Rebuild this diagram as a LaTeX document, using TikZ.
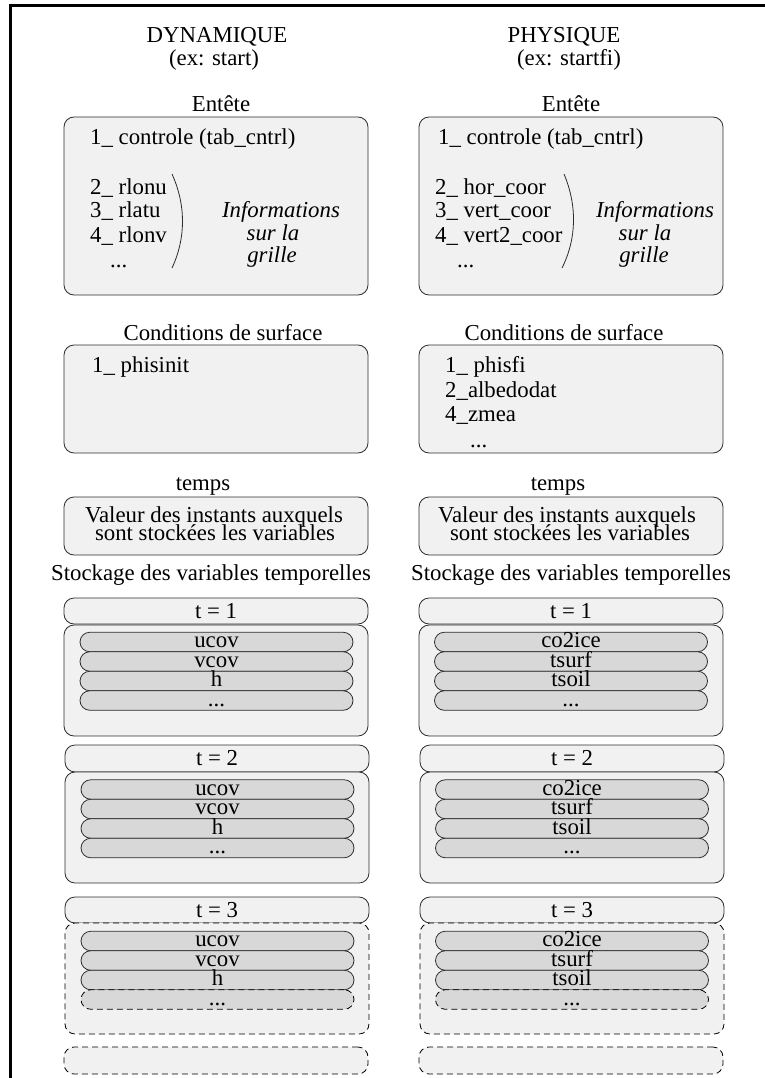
\documentclass[tikz,border=0pt]{standalone}
\usepackage{fontspec}
\setmainfont{Liberation Serif}
\definecolor{boxfill}{RGB}{241,241,241}
\definecolor{pillfill}{RGB}{216,216,216}
\definecolor{edge}{RGB}{45,45,45}
\begin{document}
\begin{tikzpicture}[x=1pt,y=-1pt,
  every node/.style={font=\fontsize{22.8}{24}\selectfont, inner sep=0pt},
  txt/.style={anchor=base},
  txtl/.style={anchor=base west},
  box/.style={draw=edge, line width=0.8pt, fill=boxfill, rounded corners=10pt, minimum width=304pt},
  pill/.style={draw=edge, line width=0.8pt, fill=pillfill, rounded corners=9.75pt, minimum width=273pt, minimum height=19.5pt, text height=15.5pt, text depth=4pt},
  dashline/.style={dash pattern=on 6pt off 4pt, draw=black},
  ital/.style={anchor=base, font=\fontsize{22.8}{24}\selectfont\itshape},
  frameline/.style={line width=3pt, black}
]
\useasboundingbox (0,0) rectangle (765,1078);
\coordinate (fa) at (10,1078);
\coordinate (fb) at (10,6);
\coordinate (fc) at (765,6);
\draw[frameline] (fa) -- (fb) -- (fc);

% titles
\node[txt] (dyn) at (217,43) {DYNAMIQUE};
\node[txt] (dynex) at (214,66) {(ex: start)};
\node[txt] (phy) at (564,43) {PHYSIQUE};
\node[txt] (phyex) at (569,66) {(ex: startfi)};

% Entete
\node[txt] (entL) at (221,112) {Entête};
\node[txt] (entR) at (571,112) {Entête};
\node[box, minimum height=178pt] (entboxL) at (216,206) {};
\node[box, minimum height=178pt] (entboxR) at (571,206) {};

\node[txtl] (eL1) at (90,145) {1\_ controle (tab\_cntrl)};
\node[txtl] (eL2) at (90,194) {2\_ rlonu};
\node[txtl] (eL3) at (90,217) {3\_ rlatu};
\node[txtl] (eL4) at (90,242) {4\_ rlonv};
\node[txtl] (eL5) at (110,267) {...};
\draw[edge, line width=0.8pt] (172,174) .. controls (186,205) and (186,238) .. (172,268);
\node[ital] (iL1) at (281,218) {Informations};
\node[ital] (iL2) at (273,240) {sur la};
\node[ital] (iL3) at (272,262) {grille};

\node[txtl] (eR1) at (438,145) {1\_ controle (tab\_cntrl)};
\node[txtl] (eR2) at (435,194) {2\_ hor\_coor};
\node[txtl] (eR3) at (435,218) {3\_ vert\_coor};
\node[txtl] (eR4) at (435,242) {4\_ vert2\_coor};
\node[txtl] (eR5) at (457,267) {...};
\draw[edge, line width=0.8pt] (564,174) .. controls (577,205) and (577,238) .. (562,268);
\node[ital] (iR1) at (655,218) {Informations};
\node[ital] (iR2) at (645,240) {sur la};
\node[ital] (iR3) at (644,262) {grille};

% Conditions de surface
\node[txt] (csL) at (223,340) {Conditions de surface};
\node[txt] (csR) at (564,340) {Conditions de surface};
\node[box, minimum height=108pt] (csboxL) at (216,399) {};
\node[box, minimum height=108pt] (csboxR) at (571,399) {};
\node[txtl] (cL1) at (92,372) {1\_ phisinit};
\node[txtl] (cR1) at (445,372) {1\_ phisfi};
\node[txtl] (cR2) at (445,397) {2\_albedodat};
\node[txtl] (cR3) at (445,421) {4\_zmea};
\node[txtl] (cR4) at (470,447) {...};

% temps
\node[txt] (tpL) at (203,490) {temps};
\node[txt] (tpR) at (558,490) {temps};
\node[box, minimum height=58pt] (tpboxL) at (216,526) {};
\node[box, minimum height=58pt] (tpboxR) at (571,526) {};
\node[txt] (vL1) at (214,522) {Valeur des instants auxquels};
\node[txt] (vL2) at (215,540) {sont stockées les variables};
\node[txt] (vR1) at (567,522) {Valeur des instants auxquels};
\node[txt] (vR2) at (570,540) {sont stockées les variables};

% Stockage
\node[txt] (stL) at (211,580) {Stockage des variables temporelles};
\node[txt] (stR) at (571,580) {Stockage des variables temporelles};

\foreach \c/\cx/\px/\va/\vb/\vc in {L/216/216.5/ucov/vcov/h, R/571/571/co2ice/tsurf/tsoil}{
  % t = 1
  \node[box, minimum height=26pt] (ta\c) at (\cx,611) {t = 1};
  \node[box, minimum height=111pt] (ca\c) at (\cx,680.5) {};
  \node[pill] (pa1\c) at (\px,642) {\va};
  \node[pill] (pa2\c) at (\px,661.5) {\vb};
  \node[pill] (pa3\c) at (\px,681) {\vc};
  \node[pill] (pa4\c) at (\px,700.5) {...};
  % t = 2
  \node[box, minimum height=27pt] (tb\c) at (\cx+1,758.5) {t = 2};
  \node[box, minimum height=111pt] (cb\c) at (\cx+1,827.5) {};
  \node[pill] (pb1\c) at (\px+1,789.5) {\va};
  \node[pill] (pb2\c) at (\px+1,809) {\vb};
  \node[pill] (pb3\c) at (\px+1,828.5) {\vc};
  \node[pill] (pb4\c) at (\px+1,848) {...};
  % t = 3
  \node[box, minimum height=26pt] (tc\c) at (\cx+1,910) {t = 3};
  \node[box, dashline, minimum height=111pt] (cc\c) at (\cx+1,978.5) {};
  \node[pill] (pc1\c) at (\px+1,941) {\va};
  \node[pill] (pc2\c) at (\px+1,960.5) {\vb};
  \node[pill] (pc3\c) at (\px+1,980) {\vc};
  \node[pill, dashline] (pc4\c) at (\px+1,999.5) {...};
  % next
  \node[box, dashline, minimum height=27pt] (td\c) at (\cx,1060.5) {};
}
\end{tikzpicture}
\end{document}
